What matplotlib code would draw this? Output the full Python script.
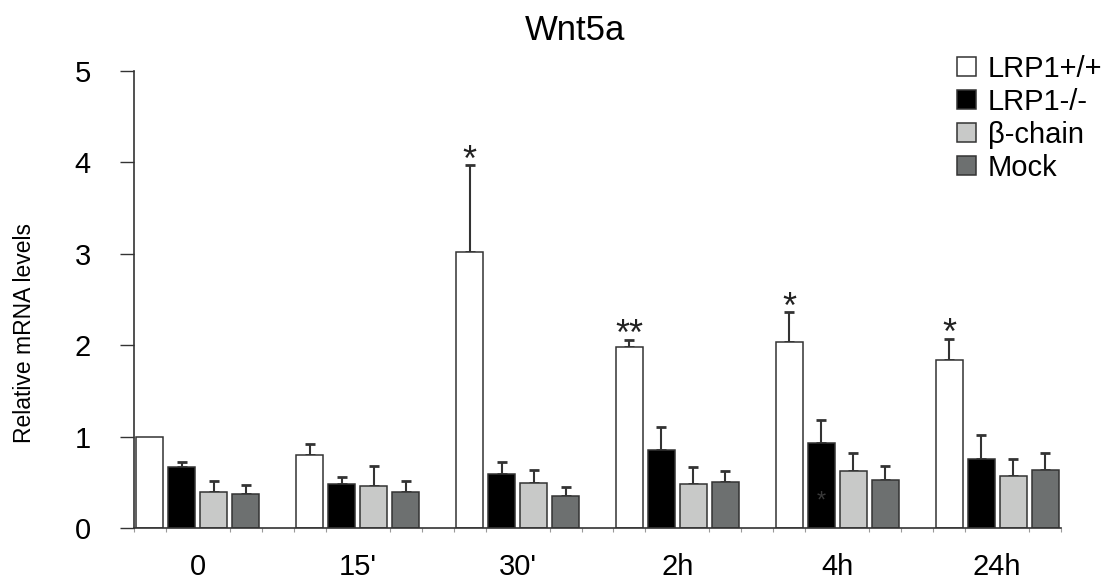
import numpy as np
import matplotlib.pyplot as plt
from matplotlib.ticker import MultipleLocator

plt.rcParams['font.family'] = ['Liberation Sans', 'DejaVu Sans']

# Data (upper error only)
timepoints = ["0", "15'", "30'", "2h", "4h", "24h"]
series = ["LRP1+/+", "LRP1-/-", "\u03b2-chain", "Mock"]
wt = [1.0, 0.80, 3.02, 1.98, 2.03, 1.84]
wt_err = [0.0, 0.12, 0.95, 0.08, 0.33, 0.23]
ko = [0.67, 0.48, 0.59, 0.85, 0.93, 0.76]
ko_err = [0.05, 0.08, 0.13, 0.25, 0.25, 0.26]
beta = [0.39, 0.46, 0.49, 0.48, 0.62, 0.57]
beta_err = [0.12, 0.22, 0.14, 0.19, 0.20, 0.18]
mock = [0.37, 0.39, 0.35, 0.50, 0.525, 0.63]
mock_err = [0.10, 0.12, 0.10, 0.12, 0.155, 0.19]
sig = ["", "", "*", "**", "*", "*"]

values = [wt, ko, beta, mock]
errors = [wt_err, ko_err, beta_err, mock_err]
colors = ['white', 'black', '#c8c9c8', '#6d7070']
edge = '#333333'

fig = plt.figure(figsize=(11.18, 5.83), dpi=100)
ax = fig.add_axes([134/1118, 1-528/583, 927/1118, 457/583])

x = np.arange(len(timepoints))
step = 0.2
width = 0.169
for k in range(4):
    pos = x + (k - 1.5) * step
    ax.bar(pos, values[k], width, color=colors[k], edgecolor=edge,
           linewidth=1.1, label=series[k], zorder=2)
    err = np.array(errors[k])
    m = err > 0
    ax.errorbar(pos[m], np.array(values[k])[m],
                yerr=[np.zeros(m.sum()), err[m]], fmt='none',
                ecolor=edge, elinewidth=1.5, capsize=3.5, capthick=2,
                zorder=1)

# significance marks above the LRP1+/+ bars
wt_pos = x - 1.5 * step
for i, s in enumerate(sig):
    if s:
        ax.annotate(s, (wt_pos[i], wt[i] + wt_err[i]), xytext=(0, -4),
                    textcoords='offset points', ha='center', va='baseline',
                    fontsize=26, color='#222222')
# faint mark visible inside the 4h LRP1-/- bar
ax.text(x[4] - 0.5 * step, 0.29, '*', ha='center', va='center',
        fontsize=17, color='#3a3a3a', zorder=3)

ax.set_xlim(-0.4, 5.4)
ax.set_ylim(0, 5)
ax.set_yticks(range(6))
ax.set_xticks(x)
ax.set_xticklabels(timepoints)
ax.xaxis.set_minor_locator(MultipleLocator(0.2))

for sp in ['top', 'right']:
    ax.spines[sp].set_visible(False)
for sp in ['left', 'bottom']:
    ax.spines[sp].set_color(edge)
    ax.spines[sp].set_linewidth(1.2)

ax.tick_params(axis='y', direction='out', length=10, width=1, color=edge,
               pad=21, labelsize=21)
ax.tick_params(axis='x', which='major', length=0, pad=18, labelsize=21)
ax.tick_params(axis='x', which='minor', direction='out', length=3,
               width=0.8, color='#999999')

fig.text(25/1118, 1-333/583, 'Relative mRNA levels', rotation=90,
         ha='center', va='center', fontsize=16.5)
fig.text(575/1118, 1-30/583, 'Wnt5a', ha='center', va='center', fontsize=25)

fig.legend(loc='upper left', bbox_to_anchor=(957/1118, 1-55/583),
           frameon=False, borderpad=0, borderaxespad=0, fontsize=21,
           handlelength=0.65, handleheight=0.6, handletextpad=0.4,
           labelspacing=0.17)

fig.savefig('out.png', dpi=100)
